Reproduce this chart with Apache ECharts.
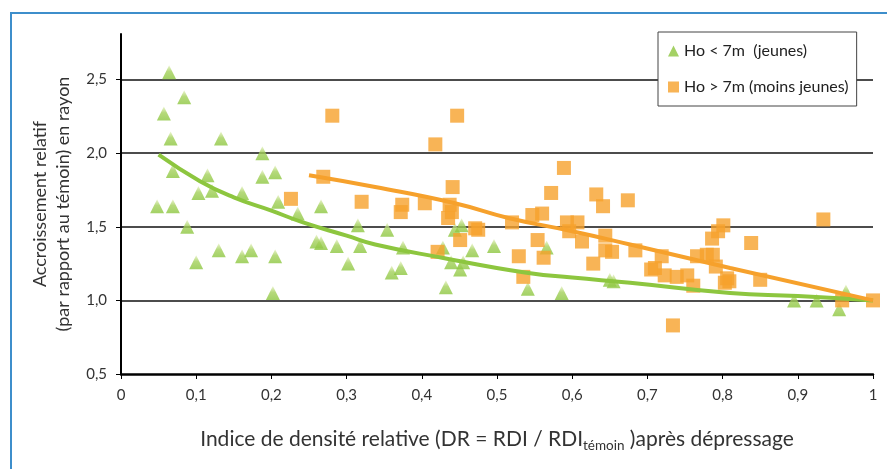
<!DOCTYPE html>
<html>
<head>
<meta charset="utf-8">
<script src="https://cdn.jsdelivr.net/npm/echarts@6/dist/echarts.min.js"></script>
<style>html,body{margin:0;padding:0;background:#fff;}#c{width:887px;height:469px;}</style>
</head>
<body>
<div id="c"></div>
<script>
// Ho < 7m (jeunes) : [DR, accroissement relatif]
const youngPoints = [
  [0.064,2.55],[0.084,2.38],[0.057,2.27],[0.066,2.10],[0.133,2.10],[0.188,2.00],[0.188,1.84],
  [0.069,1.88],[0.115,1.85],[0.205,1.87],[0.103,1.73],[0.121,1.745],[0.161,1.73],[0.048,1.64],
  [0.069,1.64],[0.209,1.67],[0.088,1.50],[0.100,1.26],[0.130,1.34],[0.161,1.30],[0.173,1.34],
  [0.205,1.30],[0.202,1.05],[0.235,1.59],[0.266,1.64],[0.260,1.40],[0.266,1.39],[0.287,1.37],
  [0.302,1.25],[0.315,1.51],[0.318,1.37],[0.354,1.48],[0.360,1.19],[0.372,1.22],[0.375,1.36],
  [0.432,1.09],[0.428,1.36],[0.439,1.26],[0.451,1.21],[0.455,1.26],[0.467,1.34],[0.444,1.48],
  [0.453,1.51],[0.496,1.37],[0.541,1.08],[0.566,1.36],[0.586,1.05],[0.650,1.14],[0.655,1.13],
  [0.895,1.00],[0.925,1.00],[0.955,0.94],[0.964,1.06]
];
// Ho > 7m (moins jeunes)
const olderPoints = [
  [0.281,2.255],[0.269,1.84],[0.226,1.69],[0.320,1.67],[0.447,2.255],[0.418,2.06],[0.441,1.77],
  [0.589,1.90],[0.572,1.73],[0.632,1.72],[0.674,1.68],[0.374,1.65],[0.372,1.60],[0.404,1.66],
  [0.437,1.65],[0.435,1.56],[0.440,1.60],[0.471,1.49],[0.475,1.48],[0.451,1.41],[0.421,1.33],
  [0.520,1.53],[0.547,1.58],[0.560,1.59],[0.554,1.41],[0.529,1.30],[0.562,1.29],[0.535,1.16],
  [0.593,1.53],[0.596,1.47],[0.607,1.53],[0.613,1.40],[0.644,1.44],[0.644,1.34],[0.653,1.33],
  [0.628,1.25],[0.641,1.64],[0.684,1.34],[0.719,1.30],[0.705,1.21],[0.710,1.22],[0.723,1.17],
  [0.739,1.16],[0.753,1.17],[0.761,1.10],[0.734,0.83],[0.766,1.30],[0.779,1.31],[0.787,1.31],
  [0.786,1.42],[0.794,1.47],[0.801,1.51],[0.791,1.23],[0.806,1.15],[0.809,1.13],[0.803,1.12],
  [0.838,1.39],[0.850,1.14],[0.934,1.55],[0.959,1.00],[1.000,1.00]
];
// trend curves
const youngTrend = [
  [0.05,1.99],[0.105,1.81],[0.15,1.70],[0.2,1.61],[0.242,1.53],[0.3,1.44],[0.338,1.38],
  [0.427,1.29],[0.537,1.19],[0.6,1.155],[0.677,1.12],[0.81,1.05],[0.9,1.03],[1.0,1.0]
];
const olderTrend = [
  [0.25,1.85],[0.338,1.77],[0.444,1.66],[0.515,1.56],[0.6,1.47],[0.677,1.38],[0.81,1.22],[1.0,1.0]
];
const yTicks = [0.5,1.0,1.5,2.0,2.5];
const legendNames = ['Ho < 7m  (jeunes)','Ho > 7m (moins jeunes)'];
const xTitle = 'Indice de densité relative (DR = RDI / RDI';
const xTitleSub = 'témoin';
const xTitleEnd = ' )après dépressage';
const yTitle = 'Accroissement relatif\n(par rapport au témoin) en rayon';

const GREEN = '#8dc63f', ORANGE = '#f6a12c';
const FONT = 'Lato';
const fmt = v => (v === 0 ? '0' : v === 1 ? '1' : v.toFixed(1).replace('.', ','));

const chart = echarts.init(document.getElementById('c'), null, {renderer:'canvas'});
chart.setOption({
  animation: false,
  backgroundColor: '#fff',
  textStyle: {fontFamily: FONT},
  graphic: [{
    type: 'rect', z: -1, silent: true,
    shape: {x: 11, y: 13, width: 900, height: 480},
    style: {fill: 'none', stroke: '#3d8ecb', lineWidth: 2}
  }],
  grid: {left: 121, right: 14, top: 34, bottom: 95, containLabel: false},
  legend: {
    orient: 'vertical', left: 658, top: 32,
    padding: [11, 8, 11, 10], itemGap: 20, itemWidth: 11, itemHeight: 11,
    borderColor: '#444', borderWidth: 1, backgroundColor: '#fff',
    textStyle: {fontSize: 16, color: '#222', fontFamily: FONT},
    data: [
      {name: legendNames[0], icon: 'triangle', itemStyle: {color: GREEN}},
      {name: legendNames[1], icon: 'rect', itemStyle: {color: ORANGE}}
    ]
  },
  xAxis: {
    type: 'value', min: 0, max: 1, interval: 0.1,
    axisLine: {lineStyle: {color: '#000', width: 2.5}},
    axisTick: {show: true, length: 5, lineStyle: {color: '#000', width: 1}},
    axisLabel: {formatter: fmt, fontSize: 15, color: '#333', margin: 14, fontFamily: FONT},
    splitLine: {show: false},
    name: '{a|' + xTitle + '}{s|' + xTitleSub + '}{a|' + xTitleEnd + '}',
    nameLocation: 'middle', nameGap: 51,
    nameTextStyle: {
      rich: {
        a: {fontSize: 21, color: '#333', fontFamily: FONT},
        s: {fontSize: 13.5, color: '#333', fontFamily: FONT, padding: [14, 0, 0, 0]}
      }
    }
  },
  yAxis: {
    type: 'value', min: 0.5, max: 2.81, interval: 0.5,
    axisLine: {show: true, lineStyle: {color: '#000', width: 2}},
    axisTick: {show: true, length: 5, customValues: yTicks, lineStyle: {color: '#000'}},
    axisLabel: {customValues: yTicks, formatter: v => v.toFixed(1).replace('.', ','),
      fontSize: 15, color: '#333', margin: 14, fontFamily: FONT},
    splitLine: {show: true, showMinLine: false, lineStyle: {color: '#111', width: 1.5}},
    name: yTitle, nameLocation: 'middle', nameGap: 46, nameRotate: 90,
    nameTextStyle: {fontSize: 18, color: '#333', lineHeight: 23, fontFamily: FONT}
  },
  series: [
    {
      name: legendNames[0], type: 'scatter', data: youngPoints, symbol: 'triangle', symbolSize: 14,
      clip: false,
      itemStyle: {color: new echarts.graphic.LinearGradient(0, 0, 0, 1, [
        {offset: 0, color: '#e9f3c8'}, {offset: 0.45, color: '#a3d05a'}, {offset: 1, color: '#8cc63f'}])}
    },
    {
      name: legendNames[1], type: 'scatter', data: olderPoints, symbol: 'rect', symbolSize: 14,
      clip: false, itemStyle: {color: ORANGE}
    },
    {
      name: 'trendY', type: 'line', data: youngTrend, smooth: true, showSymbol: false, symbol: 'none',
      lineStyle: {color: GREEN, width: 4}, z: 3
    },
    {
      name: 'trendO', type: 'line', data: olderTrend, smooth: true, showSymbol: false, symbol: 'none',
      lineStyle: {color: ORANGE, width: 4}, z: 3
    }
  ]
});
</script>
</body>
</html>
